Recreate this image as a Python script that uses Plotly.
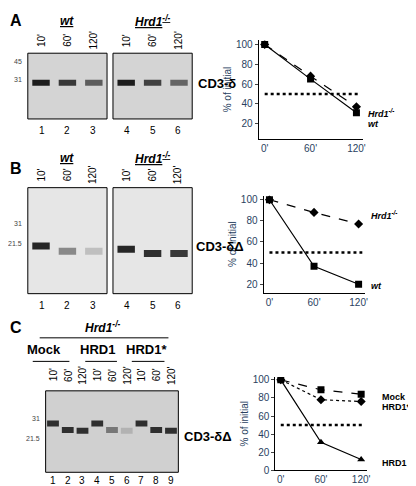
import plotly.graph_objects as go

W, H = 416, 486
times = [0, 60, 120]
time_labels = ["0'", "60'", "120'"]
A_wt = [100, 65, 31]
A_hrd = [100, 68, 37]
B_wt = [100, 37, 20]
B_hrd = [100, 88, 77]
C_mock = [100, 89, 84]
C_star = [100, 78, 76]
C_hrd1 = [100, 31, 12]
y_ticks = [20, 40, 60, 80, 100]
C_y_ticks = [0, 20, 40, 60, 80, 100]
lane_times = ["10'", "60'", "120'"]
# gel bands: vertical position (0 top..1 bottom), intensity 0..1
A_band_pos = [0.45, 0.45, 0.45, 0.45, 0.45, 0.45]
A_band_int = [0.95, 0.8, 0.6, 0.95, 0.75, 0.55]
B_band_pos = [0.55, 0.6, 0.6, 0.58, 0.62, 0.62]
B_band_int = [0.9, 0.35, 0.05, 0.9, 0.85, 0.8]
C_band_pos = [0.4, 0.48, 0.49, 0.4, 0.48, 0.49, 0.4, 0.48, 0.49]
C_band_int = [0.85, 0.85, 0.85, 0.85, 0.45, 0.12, 0.85, 0.85, 0.85]

fig = go.Figure()
FONT = "Liberation Sans, Arial"

def px(x0, y0, x1, y1):
    return [x0 / W, x1 / W], [1 - y1 / H, 1 - y0 / H]

axn = [0]
def new_axes(box, xr, yr, show=False):
    axn[0] += 1
    n = axn[0]
    xd, yd = px(*box)
    xa = "xaxis" if n == 1 else f"xaxis{n}"
    ya = "yaxis" if n == 1 else f"yaxis{n}"
    xref = "x" if n == 1 else f"x{n}"
    yref = "y" if n == 1 else f"y{n}"
    fig.layout[xa] = dict(domain=xd, range=xr, anchor=yref, showgrid=False, zeroline=False, visible=show)
    fig.layout[ya] = dict(domain=yd, range=yr, anchor=xref, showgrid=False, zeroline=False, visible=show)
    return xref, yref, xa, ya

def gel(box, lanes, pos, inten, bg, band_h=7, half=0.33):
    xr_, yr_, xa, ya = new_axes(box, [0.5, len(lanes) + 0.5], [1, 0])
    fig.add_shape(type="rect", xref=f"{xr_} domain", yref=f"{yr_} domain", x0=0, x1=1, y0=0, y1=1,
                  fillcolor=bg, line=dict(color="black", width=1), layer="below")
    for i in range(len(lanes)):
        g = int(200 - 180 * inten[i])
        fig.add_trace(go.Scatter(x=[lanes[i] - half, lanes[i] + half], y=[pos[i], pos[i]], mode="lines",
                                 line=dict(color=f"rgb({g},{g},{g})", width=band_h), xaxis=xr_, yaxis=yr_,
                                 showlegend=False, hoverinfo="skip"))
    return xr_, yr_

def ann(x, y, text, size=10, bold=False, italic=False, angle=0, anchor="center", color="black"):
    t = text
    if bold: t = f"<b>{t}</b>"
    if italic: t = f"<i>{t}</i>"
    fig.add_annotation(x=x / W, y=1 - y / H, xref="paper", yref="paper", text=t, showarrow=False,
                       font=dict(size=size, family=FONT, color=color), textangle=angle, xanchor=anchor,
                       yanchor="middle")

def hline(x0, x1, y, w=1):
    fig.add_shape(type="line", xref="paper", yref="paper", x0=x0 / W, x1=x1 / W, y0=1 - y / H, y1=1 - y / H,
                  line=dict(color="black", width=w))

def chart(box, series, yr, ticks, labels):
    xr_, yr_, xa, ya = new_axes(box, [-8, 128], yr, show=True)
    fig.layout[xa].update(tickvals=times, ticktext=time_labels, showline=True, linecolor="black", ticks="",
                          tickfont=dict(size=10, family=FONT), mirror=False)
    fig.layout[ya].update(tickvals=ticks, showline=True, linecolor="black", ticks="outside", ticklen=3,
                          tickfont=dict(size=10, family=FONT),
                          title=dict(text="% of initial", font=dict(size=10, family=FONT), standoff=2))
    fig.add_trace(go.Scatter(x=[0, 125], y=[50, 50], mode="lines", line=dict(color="black", width=2.5, dash="dot"),
                             xaxis=xr_, yaxis=yr_, showlegend=False, hoverinfo="skip"))
    for vals, sym, dash in series:
        fig.add_trace(go.Scatter(x=times, y=vals, mode="lines+markers", xaxis=xr_, yaxis=yr_,
                                 line=dict(color="black", width=1.2, dash=dash),
                                 marker=dict(symbol=sym, size=7, color="black"), showlegend=False))
    for (lx, ly, txt) in labels:
        ann(lx, ly, txt, size=9, bold=True, anchor="left")

# ---- Panel A ----
ann(8, 10, "A", 16, bold=True)
gel((20, 43, 100, 110), [1, 2, 3], A_band_pos[:3], A_band_int[:3], "#d4d4d4", band_h=6)
gel((106, 43, 186, 110), [1, 2, 3], A_band_pos[3:], A_band_int[3:], "#d4d4d4", band_h=6)
ann(60, 10, "<u>wt</u>", 12, bold=True, italic=True)
ann(146, 10, "<u>Hrd1<sup>-/-</sup></u>", 12, bold=True, italic=True)
for k, cx in enumerate([34, 60, 86, 120, 146, 172]):
    ann(cx, 30, lane_times[k % 3], 10, angle=-90)
    ann(cx, 122, str(k + 1), 10)
ann(16, 43 + 0.13 * 67, "45", 7, anchor="right", color="#444")
ann(16, 43 + 0.4 * 67, "31", 7, anchor="right", color="#444")
ann(190, 74, "CD3-δ", 13, bold=True, anchor="left")
chart((253, 30, 358, 130), [(A_wt, "square", "solid"), (A_hrd, "diamond", "dash")], [5, 104], y_ticks,
      [(361, 104, "<i>Hrd1<sup>-/-</sup></i>"), (361, 115, "<i>wt</i>")])

# ---- Panel B ----
ann(8, 160, "B", 16, bold=True)
gel((20, 180, 100, 288), [1, 2, 3], B_band_pos[:3], B_band_int[:3], "#e6e6e6")
gel((106, 180, 186, 288), [1, 2, 3], B_band_pos[3:], B_band_int[3:], "#e6e6e6")
ann(60, 150, "<u>wt</u>", 12, bold=True, italic=True)
ann(146, 150, "<u>Hrd1<sup>-/-</sup></u>", 12, bold=True, italic=True)
for k, cx in enumerate([34, 60, 86, 120, 146, 172]):
    ann(cx, 167, lane_times[k % 3], 10, angle=-90)
    ann(cx, 300, str(k + 1), 10)
ann(16, 216, "31", 7, anchor="right", color="#444")
ann(16, 237, "21.5", 7, anchor="right", color="#444")
ann(188, 240, "CD3-δΔ", 13, bold=True, anchor="left")
chart((258, 188, 360, 287), [(B_wt, "square", "solid"), (B_hrd, "diamond", "dash")], [12, 104], y_ticks,
      [(365, 208, "<i>Hrd1<sup>-/-</sup></i>"), (365, 280, "<i>wt</i>")])

# ---- Panel C ----
ann(8, 322, "C", 16, bold=True)
ann(95, 322, "Hrd1<sup>-/-</sup>", 12, bold=True, italic=True)
hline(32, 162, 333)
for cx, t in [(36, "Mock"), (90, "HRD1"), (140, "HRD1*")]:
    ann(cx, 345, t, 13, bold=True)
for x0, x1 in [(25, 62), (78, 110), (125, 158)]:
    hline(x0, x1, 357)
gel((38, 387, 172, 470), list(range(1, 10)), C_band_pos, C_band_int, "#d0d0d0", band_h=6, half=0.4)
lane_x = [38 + (k + 0.5) * 134 / 9 for k in range(9)]
for k, cx in enumerate(lane_x):
    ann(cx, 371, lane_times[k % 3], 10, angle=-90)
    ann(cx, 478, str(k + 1), 10)
ann(34, 415, "31", 7, anchor="right", color="#444")
ann(34, 436, "21.5", 7, anchor="right", color="#444")
ann(176, 434, "CD3-δΔ", 13, bold=True, anchor="left")
chart((270, 373, 362, 468), [(C_mock, "square", "dash"), (C_star, "diamond", "dot"), (C_hrd1, "triangle-up", "solid")],
      [0, 103], C_y_ticks,
      [(376, 393, "Mock"), (376, 403, "HRD1*"), (376, 461, "HRD1")])

fig.update_layout(width=W, height=H, margin=dict(l=0, r=0, t=0, b=0), plot_bgcolor="white",
                  paper_bgcolor="white", showlegend=False)
fig.write_html("out.html")
